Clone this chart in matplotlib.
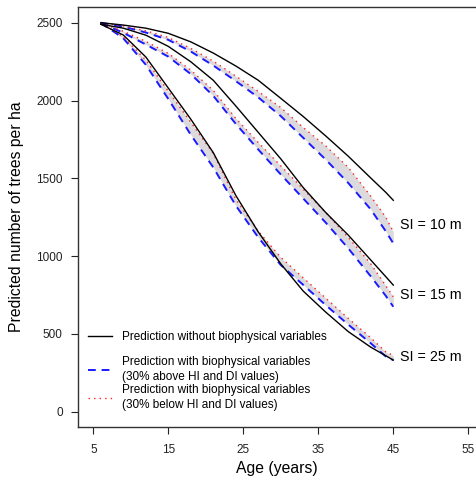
import matplotlib
matplotlib.use("Agg")
import matplotlib.pyplot as plt

plt.rcParams['font.family'] = ['Liberation Sans', 'DejaVu Sans']

# stand age (years)
ages = [6, 9, 12, 15, 18, 21, 24, 27, 30, 33, 36, 39, 42, 44, 45]

# SI = 10 m
si10_base = [2500, 2485, 2465, 2432, 2377, 2305, 2222, 2130, 2014, 1897, 1772, 1642, 1502, 1410, 1359]
si10_low = [2500, 2480, 2448, 2405, 2335, 2253, 2157, 2058, 1955, 1826, 1708, 1570, 1385, 1250, 1157]
si10_high = [2500, 2475, 2437, 2390, 2315, 2225, 2125, 2020, 1900, 1760, 1620, 1470, 1300, 1160, 1082]

# SI = 15 m
si15_base = [2490, 2465, 2420, 2348, 2249, 2130, 1965, 1795, 1625, 1440, 1280, 1135, 975, 868, 814]
si15_low = [2500, 2445, 2380, 2303, 2195, 2065, 1885, 1730, 1580, 1430, 1280, 1120, 950, 810, 739]
si15_high = [2500, 2435, 2360, 2282, 2170, 2030, 1850, 1685, 1525, 1370, 1215, 1050, 870, 745, 675]

# SI = 25 m
si25_base = [2490, 2421, 2280, 2080, 1880, 1665, 1390, 1155, 950, 775, 640, 515, 415, 360, 332]
si25_low = [2500, 2410, 2260, 2060, 1860, 1660, 1365, 1160, 992, 860, 730, 600, 475, 385, 362]
si25_high = [2500, 2400, 2230, 2010, 1780, 1570, 1325, 1120, 943, 815, 685, 560, 440, 355, 332]

si_labels = ["SI = 10 m", "SI = 15 m", "SI = 25 m"]
si_label_y = [1200, 750, 350]

groups = [
    (si10_base, si10_low, si10_high),
    (si15_base, si15_low, si15_high),
    (si25_base, si25_low, si25_high),
]

fig = plt.figure(figsize=(4.76, 4.83), dpi=100)
ax = fig.add_axes([0.1639, 0.1159, 0.8361, 0.8696])

for i, (base, low, high) in enumerate(groups):
    ax.fill_between(ages, low, high, color='#dcdadc', lw=0, zorder=1)
    l1, = ax.plot(ages, base, color='black', lw=1.0, zorder=3)
    l2, = ax.plot(ages, high, color='#1a1aff', lw=1.4, ls=(0, (4, 3)), zorder=2)
    l3, = ax.plot(ages, low, color='#ff2020', lw=1.0, ls=(0, (1, 3)), zorder=2)
    ax.text(45.9, si_label_y[i], si_labels[i], fontsize=10.3, va='center', ha='left')

leg_kw = dict(frameon=False, fontsize=8.5, handlelength=2.0, handletextpad=0.85,
              borderpad=0, borderaxespad=0)
leg1 = ax.legend([l1], ["Prediction without biophysical variables"],
                 loc='center left', bbox_to_anchor=(0.025, 0.214), **leg_kw)
ax.add_artist(leg1)
leg2 = ax.legend([l2, l3],
                 ["Prediction with biophysical variables\n(30% above HI and DI values)",
                  "Prediction with biophysical variables\n(30% below HI and DI values)"],
                 loc='center left', bbox_to_anchor=(0.025, 0.1036),
                 labelspacing=0.15, **leg_kw)
for t in leg2.get_texts():
    t.set_linespacing(1.3)

ax.set_xlim(2.96, 56.03)
ax.set_ylim(-98, 2601)
ax.set_xticks([5, 15, 25, 35, 45, 55])
ax.set_yticks([0, 500, 1000, 1500, 2000, 2500])
ax.tick_params(axis='both', length=5, width=0.8, labelsize=8.5, colors='#222222')
ax.tick_params(axis='x', pad=7)
ax.tick_params(axis='y', pad=6)
ax.spines['right'].set_visible(False)
for s in ['left', 'bottom', 'top']:
    ax.spines[s].set_color('#333333')
    ax.spines[s].set_linewidth(1.0)

ax.set_xlabel("Age (years)", fontsize=11.3, labelpad=4)
ax.set_ylabel("Predicted number of trees per ha", fontsize=11.3, labelpad=9)

fig.savefig("out.png", dpi=100)
